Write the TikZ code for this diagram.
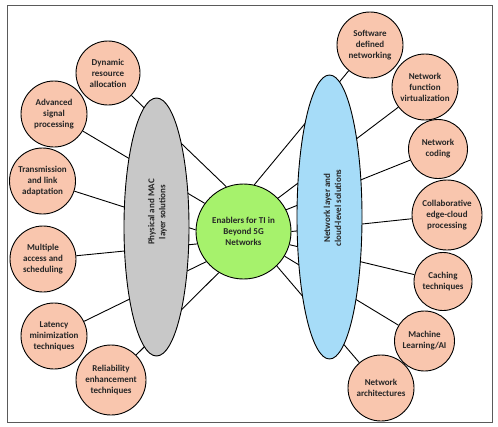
\documentclass[tikz,border=0pt]{standalone}
\usepackage{fontspec}
\setmainfont{Carlito}
\usetikzlibrary{shapes.geometric,backgrounds,calc}
\definecolor{peach}{HTML}{F9C6AE}
\definecolor{lgreen}{HTML}{A6F26C}
\definecolor{lgray}{HTML}{C8C8C8}
\definecolor{lblue}{HTML}{A6DCF8}
\definecolor{framec}{HTML}{5A5A5A}
\tikzset{
  txt/.style={font=\fontsize{9}{11}\selectfont\bfseries, align=center, text=black!85},
  leaf/.style={circle, draw=black, line width=0.9pt, fill=peach, inner sep=0pt, txt},
  hub/.style={circle, draw=black, line width=0.9pt, fill=lgreen, inner sep=0pt, minimum size=95pt, txt},
  layer/.style={ellipse, draw=black, line width=0.9pt, inner sep=0pt, minimum width=65pt},
  conn/.style={draw=black, line width=0.9pt},
}
\begin{document}
\begin{tikzpicture}[x=1pt,y=-1pt]
\useasboundingbox (0,0) rectangle (498,426);
\draw[framec, line width=1pt] (7,5.5) rectangle (492.5,422);
% layers
\node[layer, fill=lgray, minimum height=258pt] (le) at (156.5,227) {};
\node[layer, fill=lblue, minimum height=284pt] (re) at (329.5,217) {};
\node[txt, rotate=90] (lt) at (157.5,212) {Physical and MAC\\layer solutions};
\node[txt, rotate=90] (rt) at (332.5,208) {Network layer and\\cloud-level solutions};
% hub
\node[hub] (c) at (243.5,231.5) {Enablers for TI in\\Beyond 5G\\Networks};
% left leaves
\node[leaf, minimum size=64pt] (l1) at (108,73) {Dynamic\\resource\\allocation};
\node[leaf, minimum size=66pt] (l2) at (54,114) {Advanced\\signal\\processing};
\node[leaf, minimum size=66pt] (l3) at (42.5,181) {Transmission\\and link\\adaptation};
\node[leaf, minimum size=66pt] (l4) at (43,259) {Multiple\\access and\\scheduling};
\node[leaf, minimum size=66pt] (l5) at (54,336) {Latency\\minimization\\techniques};
\node[leaf, minimum size=70pt] (l6) at (111,380) {Reliability\\enhancement\\techniques};
% right leaves
\node[leaf, minimum size=66pt] (r1) at (370,45) {Software\\defined\\networking};
\node[leaf, minimum size=66pt] (r2) at (425,87) {Network\\function\\virtualization};
\node[leaf, minimum size=59pt] (r3) at (438,149) {Network\\coding};
\node[leaf, minimum size=70pt] (r4) at (447,215) {Collaborative\\edge-cloud\\processing};
\node[leaf, minimum size=58pt] (r5) at (443,281.5) {Caching\\techniques};
\node[leaf, minimum size=60pt] (r6) at (424.5,341) {Machine\\Learning/AI};
\node[leaf, minimum size=66pt] (r7) at (381,388) {Network\\architectures};
\begin{scope}[on background layer]
\foreach \n/\a in {l1/111,l2/144,l3/178,l4/195,l5/219,l6/239,
                   r1/77,r2/44,r3/27,r4/0,r5/-16,r6/-31,r7/-46}
  \draw[conn] (\n) -- (c.\a);
\end{scope}
\end{tikzpicture}
\end{document}
